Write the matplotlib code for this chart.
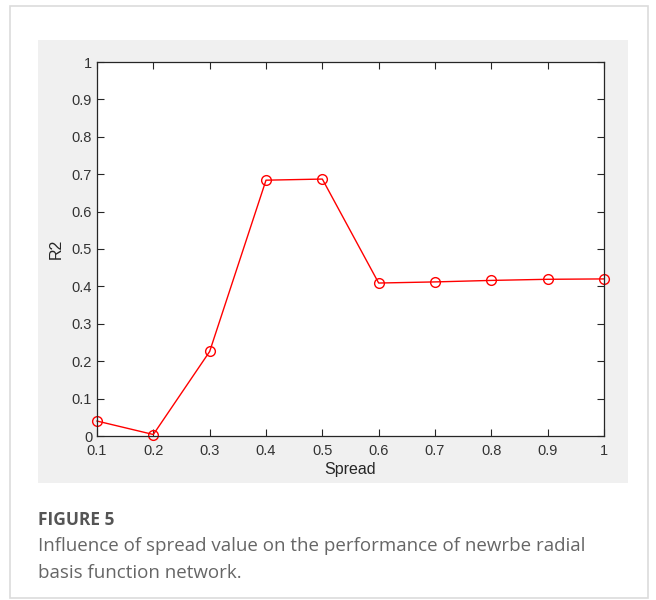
import numpy as np
import matplotlib.pyplot as plt
from matplotlib.patches import Rectangle

# data
spread = [0.1, 0.2, 0.3, 0.4, 0.5, 0.6, 0.7, 0.8, 0.9, 1.0]
r2 = [0.040, 0.004, 0.226, 0.684, 0.687, 0.409, 0.412, 0.416, 0.419, 0.420]
x_ticks = [0.1, 0.2, 0.3, 0.4, 0.5, 0.6, 0.7, 0.8, 0.9, 1.0]
x_ticklabels = ["0.1", "0.2", "0.3", "0.4", "0.5", "0.6", "0.7", "0.8", "0.9", "1"]
y_ticks = [0, 0.1, 0.2, 0.3, 0.4, 0.5, 0.6, 0.7, 0.8, 0.9, 1.0]
y_ticklabels = ["0", "0.1", "0.2", "0.3", "0.4", "0.5", "0.6", "0.7", "0.8", "0.9", "1"]

W, H = 656, 600
fig = plt.figure(figsize=(W / 100, H / 100), dpi=100)
fig.patch.set_facecolor("white")

def fx(px):
    return px / W

def fy(py):
    return 1 - py / H

# outer frame of the figure box
fig.patches.append(Rectangle((fx(10), fy(598)), fx(648) - fx(10), fy(6) - fy(598),
                             transform=fig.transFigure, fill=False,
                             edgecolor="#dcdcdc", linewidth=1.2, zorder=-2))
# grey matlab panel
fig.patches.append(Rectangle((fx(38), fy(483)), fx(628) - fx(38), fy(40) - fy(483),
                             transform=fig.transFigure, facecolor="#f0f0f0",
                             edgecolor="none", zorder=-1))

ax = fig.add_axes([fx(97), fy(436), fx(604) - fx(97), fy(62) - fy(436)])
ax.set_facecolor("white")
ax.plot(spread, r2, color="#ff0000", linewidth=1.0, marker="o", markersize=7,
        markerfacecolor="none", markeredgecolor="#ff0000", markeredgewidth=1.0,
        clip_on=False)

ax.set_xlim(0.1, 1.0)
ax.set_ylim(0, 1)
ax.set_xticks(x_ticks)
ax.set_xticklabels(x_ticklabels)
ax.set_yticks(y_ticks)
ax.set_yticklabels(y_ticklabels)
ax.tick_params(direction="in", top=True, right=True, length=5, width=0.8,
               color="#262626", labelsize=10.5, labelcolor="#333333", pad=3.5)
ax.tick_params(axis="x", pad=5.5)
for lab in ax.get_xticklabels() + ax.get_yticklabels():
    lab.set_family("Liberation Sans")
for s in ax.spines.values():
    s.set_color("#262626")
    s.set_linewidth(0.9)

ax.set_xlabel("Spread", fontsize=11.5, family="Liberation Sans", color="#262626", labelpad=3)
ax.set_ylabel("R2", fontsize=11.5, family="Liberation Sans", color="#262626", labelpad=6)

# caption
fig.text(fx(38), fy(520), "FIGURE 5", fontsize=12.5, fontweight="bold", family="Open Sans",
         color="#555555", va="center", ha="left")
fig.text(fx(38), fy(546), "Influence of spread value on the performance of newrbe radial",
         fontsize=13.5, family="Open Sans", color="#666666", va="center", ha="left")
fig.text(fx(38), fy(573), "basis function network.",
         fontsize=13.5, family="Open Sans", color="#666666", va="center", ha="left")

fig.savefig("out.png", dpi=100)
